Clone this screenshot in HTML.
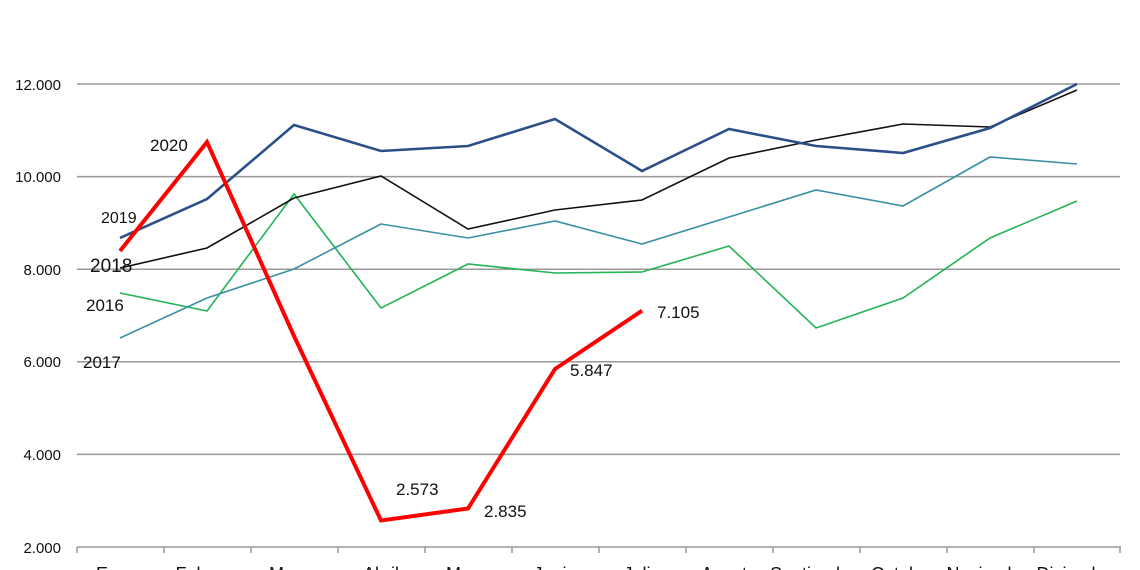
<!DOCTYPE html>
<html><head><meta charset="utf-8"><style>
html,body{margin:0;padding:0;background:#fff;width:1140px;height:570px;overflow:hidden}
text{font-family:"Liberation Sans",Calibri,sans-serif;fill:#111}
</style></head><body>
<svg width="1140" height="570" viewBox="0 0 1140 570" xmlns="http://www.w3.org/2000/svg">
<g stroke="#999" stroke-width="1.5">
<line x1="77" y1="84" x2="1120" y2="84"/>
<line x1="77" y1="176.6" x2="1120" y2="176.6"/>
<line x1="77" y1="269.2" x2="1120" y2="269.2"/>
<line x1="77" y1="361.8" x2="1120" y2="361.8"/>
<line x1="77" y1="454.4" x2="1120" y2="454.4"/>
<line x1="77" y1="547" x2="1121" y2="547"/>
<line x1="77" y1="547" x2="77" y2="553"/><line x1="164" y1="547" x2="164" y2="553"/><line x1="251" y1="547" x2="251" y2="553"/><line x1="338" y1="547" x2="338" y2="553"/><line x1="425" y1="547" x2="425" y2="553"/><line x1="512" y1="547" x2="512" y2="553"/><line x1="599" y1="547" x2="599" y2="553"/><line x1="686" y1="547" x2="686" y2="553"/><line x1="773" y1="547" x2="773" y2="553"/><line x1="860" y1="547" x2="860" y2="553"/><line x1="947" y1="547" x2="947" y2="553"/><line x1="1034" y1="547" x2="1034" y2="553"/><line x1="1120" y1="547" x2="1120" y2="553"/>
</g>
<g font-size="15" text-anchor="end">
<text x="61" y="90">12.000</text><text x="61" y="182">10.000</text><text x="61" y="275">8.000</text><text x="61" y="367">6.000</text><text x="61" y="460">4.000</text><text x="61" y="553">2.000</text>
</g>
<g font-size="18" text-anchor="middle">
<text x="120" y="580">Enero</text><text x="207" y="580">Febrero</text><text x="294" y="580">Marzo</text><text x="381" y="580">Abril</text><text x="468" y="580">Mayo</text><text x="555" y="580">Junio</text><text x="642" y="580">Julio</text><text x="729" y="580">Agosto</text><text x="816" y="580">Septiembre</text><text x="903" y="580">Octubre</text><text x="990" y="580">Noviembre</text><text x="1077" y="580">Diciembre</text>
</g>
<g fill="none" stroke-linejoin="miter">
<polyline stroke="#22b455" stroke-width="1.6" points="120,293 207,311 294,194 381,308 468,264 555,273 642,272 729,246 816,328 903,298 990,238 1077,201"/>
<polyline stroke="#3a8fa3" stroke-width="1.6" points="120,338 207,298 294,269 381,224 468,238 555,221 642,244 729,217 816,190 903,206 990,157 1077,164"/>
<polyline stroke="#111" stroke-width="1.6" points="120,268 207,248 294,198 381,176 468,229 555,210 642,200 729,158 816,140 903,124 990,127 1077,90"/>
<polyline stroke="#2b5087" stroke-width="2.6" points="120,238 207,199 294,125 381,151 468,146 555,119 642,171 729,129 816,146 903,153 990,128 1077,84"/>
<polyline stroke="#f00" stroke-width="4" points="120,251 207,142 294,336 381,520.5 468,508.5 555,369 642,310.7"/>
</g>
<g font-size="17">
<text x="150" y="151">2020</text>
<text x="101" y="223" font-size="16">2019</text>
<text x="90" y="272" font-size="19">2018</text>
<text x="86" y="311">2016</text>
<text x="83" y="368">2017</text>
<text x="396" y="495">2.573</text>
<text x="484" y="517">2.835</text>
<text x="570" y="376">5.847</text>
<text x="657" y="318">7.105</text>
</g>
</svg>
</body></html>
